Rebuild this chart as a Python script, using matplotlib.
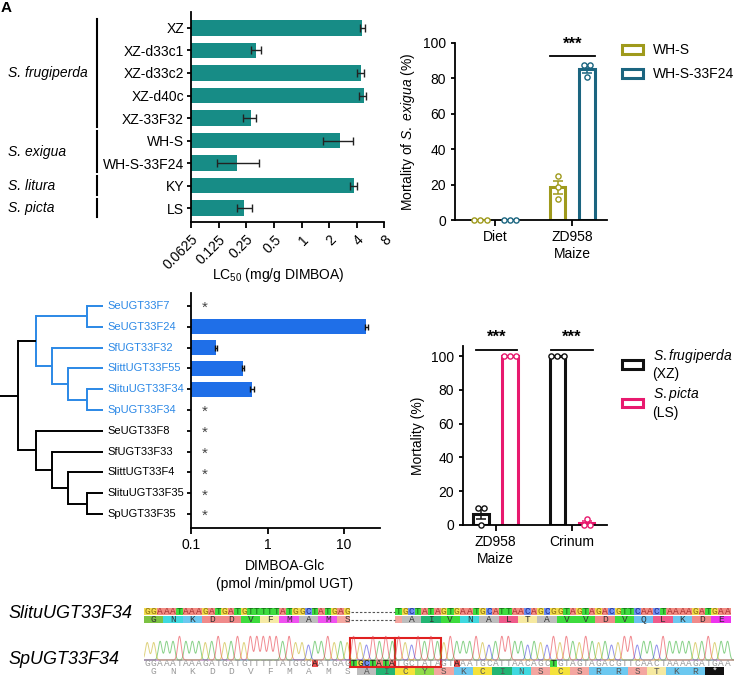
import matplotlib
matplotlib.use("Agg")
import matplotlib.pyplot as plt
from matplotlib.patches import Rectangle, Patch
from matplotlib.transforms import blended_transform_factory
import numpy as np

plt.rcParams["font.family"] = ["Liberation Sans", "DejaVu Sans"]
plt.rcParams["mathtext.fontset"] = "custom"
plt.rcParams["mathtext.rm"] = "Liberation Sans"
plt.rcParams["mathtext.it"] = "Liberation Sans:italic"
plt.rcParams["font.size"] = 10
plt.rcParams["axes.linewidth"] = 1.3
plt.rcParams["xtick.major.width"] = 1.3
plt.rcParams["ytick.major.width"] = 1.3
plt.rcParams["xtick.major.size"] = 4
plt.rcParams["ytick.major.size"] = 3

# ---------------- data ----------------
# panel A: LC50 of strains
strains = ["XZ", "XZ-d33c1", "XZ-d33c2", "XZ-d40c", "XZ-33F32",
           "WH-S", "WH-S-33F24", "KY", "LS"]
lc50 = [4.6, 0.316, 4.42, 4.77, 0.279, 2.62, 0.198, 3.74, 0.238]
lc50_lo = [4.31, 0.279, 4.07, 4.24, 0.232, 1.72, 0.121, 3.36, 0.199]
lc50_hi = [4.89, 0.358, 4.77, 5.10, 0.319, 3.65, 0.343, 4.03, 0.288]
lc50_ticks = [0.0625, 0.125, 0.25, 0.5, 1, 2, 4, 8]
lc50_ticklabels = ["0.0625", "0.125", "0.25", "0.5", "1", "2", "4", "8"]
species = ["S. frugiperda", "S. exigua", "S. litura", "S. picta"]
species_first = [0, 5, 7, 8]
species_last = [4, 6, 7, 8]

# panel B: mortality of S. exigua
b_groups = ["Diet", "ZD958\nMaize"]
b_series = ["WH-S", "WH-S-33F24"]
b_points = {
    "WH-S": [[0, 0, 0], [25, 18.5, 12]],
    "WH-S-33F24": [[0, 0, 0], [87.5, 87.5, 81]],
}
b_colors = {"WH-S": "#9f9a1c", "WH-S-33F24": "#1b6580"}

# panel C: enzyme activity with gene tree
genes = ["SeUGT33F7", "SeUGT33F24", "SfUGT33F32", "SlittUGT33F55",
         "SlituUGT33F34", "SpUGT33F34", "SeUGT33F8", "SfUGT33F33",
         "SlittUGT33F4", "SlituUGT33F35", "SpUGT33F35"]
activity = [0, 19.5, 0.215, 0.48, 0.63, 0, 0, 0, 0, 0, 0]
activity_err = [0, 0.8, 0.006, 0.02, 0.035, 0, 0, 0, 0, 0, 0]
active_clade = [0, 1, 2, 3, 4, 5]
# (node depth, children); integers are leaves
tree = (18, [(36, [(87, [0, 1]), (52, [2, (68, [3, (87, [4, 5])])])]),
             (36, [6, (52, [7, (68, [8, (87, [9, 10])])])])])
leaf_depth = 103

# panel D: mortality on two plants
d_groups = ["ZD958\nMaize", "Crinum"]
d_series = ["S.frugiperda\n(XZ)", "S.picta\n(LS)"]
d_points = {
    "S.frugiperda\n(XZ)": [[10, 10, 0], [100, 100, 100]],
    "S.picta\n(LS)": [[100, 100, 100], [3.3, 0, 0]],
}
d_colors = {"S.frugiperda\n(XZ)": "#111111", "S.picta\n(LS)": "#e8196e"}

# panel E: sequences
seq_top = "GGAAATAAAGATGATGTTTTTATGGCTATGAG-------TGCTATAGTGAATGCATTAACAGCGGTAGTAGACGTTCAACTAAAAGATGAA"
aa_top = "GNKDDVFMAMSAIVNALTAVVDVQLKDE"
seq_bot = "GGAAATAAAGATGATGTTTTTATGGCAATGAGTGCTATATGCTATAGTAAATGCATTAACAGCTGTAGTAGACGTTCAACTAAAAGATGAA"
aa_bot = "GNKDDVFMAMSAICYSKCINSCSRRSTKR*"
bot_changed = [26, 32, 33, 34, 35, 36, 37, 38, 48, 63]
insert_start, insert_len = 32, 7

nuc_bg = {"A": "#f28b82", "T": "#3fdc3f", "G": "#f2dc4c", "C": "#6f8ff0"}
nuc_fg = {"A": "#a83232", "T": "#156a15", "G": "#8a6c10", "C": "#1d2d8c"}
trace_col = {"A": "#3cb43c", "T": "#e8404a", "C": "#4a4ae0", "G": "#c9b52a"}
peak_h = {"A": 0.75, "T": 0.95, "G": 0.7, "C": 0.6}
aa_bg = {"G": "#7cc242", "N": "#3fd9e0", "K": "#6cc8f0", "D": "#f08a8a",
         "V": "#3ddc3d", "F": "#f6eaa5", "M": "#f050f0", "A": "#bdbdbd",
         "S": "#f4a6a0", "I": "#22b573", "L": "#ef5a8a", "T": "#f6e9a0",
         "Q": "#6cc0f0", "E": "#ee33ee", "C": "#f5e23a", "Y": "#8fdc4a",
         "R": "#6cc8f0", "*": "#111111"}

W, H = 734, 675
fig = plt.figure(figsize=(W / 100, H / 100), dpi=100)


def px_axes(left, top, right, bottom):
    return fig.add_axes([left / W, 1 - bottom / H, (right - left) / W, (bottom - top) / H])


def spread(values, step=0.1):
    # put equal values side by side, like a column scatter
    offs = []
    for i, v in enumerate(values):
        same = [j for j, w in enumerate(values) if w == v]
        k = same.index(i)
        n = len(same)
        offs.append((k - (n - 1) / 2) * step)
    return offs


def mortality_panel(ax, groups, series, points, colors, width=0.2, off=0.19):
    for s_i, name in enumerate(series):
        c = colors[name]
        sign = -1 if s_i == 0 else 1
        for g_i, pts in enumerate(points[name]):
            x = g_i + sign * off
            m = np.mean(pts)
            sem = np.std(pts, ddof=1) / np.sqrt(len(pts))
            ax.bar(x, m, width=width, facecolor="white", edgecolor=c,
                   linewidth=2.2, zorder=2)
            ax.errorbar(x, m, yerr=sem, color=c, capsize=3.5, elinewidth=1.1,
                        capthick=1.1, zorder=3)
            if sem == 0:
                ax.plot([x - 0.06, x + 0.06], [m, m], color=c, lw=1.1, zorder=3)
            ox = spread(pts, 0.08)
            ax.scatter([x + o for o in ox], pts, s=14, facecolor="white",
                       edgecolor=c, linewidth=1.0, zorder=4, clip_on=False)
    ax.set_xticks(range(len(groups)))
    ax.set_xticklabels(groups)
    ax.set_yticks([0, 20, 40, 60, 80, 100])
    for sp in ["top", "right"]:
        ax.spines[sp].set_visible(False)


def stars(ax, xc, y_line, y_text, half=0.28):
    ax.plot([xc - half, xc + half], [y_line, y_line], color="black", lw=1.3,
            clip_on=False)
    ax.text(xc, y_text, "***", ha="center", va="center", fontsize=12,
            fontweight="bold", clip_on=False)


# ---------------- panel A ----------------
ax_a = px_axes(191, 12, 384.4, 222)
rows = np.arange(len(strains))
xmin = lc50_ticks[0]
ax_a.barh(rows, [v - xmin for v in lc50], left=xmin, height=0.68,
          color="#178c86", zorder=2)
ax_a.errorbar(lc50, rows,
              xerr=[[v - lo for v, lo in zip(lc50, lc50_lo)],
                    [hi - v for v, hi in zip(lc50, lc50_hi)]],
              fmt="none", ecolor="#222222", elinewidth=1.0, capsize=3, zorder=3)
ax_a.set_xscale("log", base=2)
ax_a.set_xlim(lc50_ticks[0], lc50_ticks[-1])
ax_a.set_ylim(8.62, -0.71)
ax_a.set_xticks(lc50_ticks)
ax_a.set_xticklabels(lc50_ticklabels, rotation=45, ha="right",
                     rotation_mode="anchor")
ax_a.xaxis.set_minor_locator(matplotlib.ticker.NullLocator())
ax_a.set_yticks(rows)
ax_a.set_yticklabels(strains)
ax_a.tick_params(axis="y", pad=2)
for sp in ["top", "right"]:
    ax_a.spines[sp].set_visible(False)
fig.text(278 / W, 1 - 275 / H, "LC$_{50}$ (mg/g DIMBOA)", ha="center",
         va="center", fontsize=10)
tr = blended_transform_factory(fig.transFigure, ax_a.transData)
for name, f, l in zip(species, species_first, species_last):
    ax_a.plot([97 / W, 97 / W], [f - 0.42, l + 0.4], color="black", lw=1.5,
              transform=tr, clip_on=False)
    ax_a.text(8 / W, (f + l) / 2, name, transform=tr, ha="left", va="center",
              fontstyle="italic", fontsize=10)

# ---------------- panel B ----------------
ax_b = px_axes(455, 43, 607, 220)
mortality_panel(ax_b, b_groups, b_series, b_points, b_colors)
ax_b.set_xlim(-0.52, 1.45)
ax_b.set_ylim(0, 100)
ax_b.set_ylabel("Mortality of $\\mathit{S.\\ exigua}$ (%)", labelpad=4)
stars(ax_b, 1, 92.5, 99.5, half=0.29)
ax_b.legend(handles=[Patch(facecolor="white", edgecolor=b_colors[s], linewidth=2.2,
                           label=s) for s in b_series],
            loc="upper left", bbox_to_anchor=(622 / W, 1 - 43 / H),
            bbox_transform=fig.transFigure, frameon=False, borderaxespad=0,
            borderpad=0, handlelength=1.5, handleheight=0.6, handletextpad=0.7,
            labelspacing=0.75, fontsize=10)

# ---------------- panel C ----------------
ax_c = px_axes(191, 293, 380, 528)
g_rows = np.arange(len(genes))
ylim_c = (10.67, -0.625)
act_vals = [v if v > 0 else np.nan for v in activity]
ax_c.barh(g_rows, [v - 0.1 if v == v else 0 for v in act_vals], left=0.1,
          height=0.72, color="#1f6fe8", zorder=2)
ax_c.errorbar(act_vals, g_rows, xerr=activity_err, fmt="none", ecolor="#111111",
              elinewidth=1.0, capsize=2, zorder=3)
for r, v in zip(g_rows, activity):
    if v == 0:
        ax_c.text(0.152, r + 0.1, "*", ha="center", va="center", fontsize=11,
                  color="#444444")
ax_c.set_xscale("log")
ax_c.set_xlim(0.1, 29.5)
ax_c.set_ylim(*ylim_c)
ax_c.set_xticks([0.1, 1, 10])
ax_c.set_xticklabels(["0.1", "1", "10"])
ax_c.xaxis.set_minor_locator(matplotlib.ticker.NullLocator())
ax_c.set_yticks(g_rows)
ax_c.set_yticklabels([])
for sp in ["top", "right"]:
    ax_c.spines[sp].set_visible(False)
fig.text(285 / W, 1 - 575 / H, "DIMBOA-Glc\n(pmol /min/pmol UGT)", ha="center",
         va="center", fontsize=10, linespacing=1.3)

ax_t = px_axes(0, 293, 191, 528)
ax_t.set_xlim(0, 191)
ax_t.set_ylim(*ylim_c)
ax_t.axis("off")
blue = "#2b88e6"


def leaves(node):
    if isinstance(node, int):
        return [node]
    out = []
    for ch in node[1]:
        out += leaves(ch)
    return out


def draw(node, parent_x, edge_color):
    if isinstance(node, int):
        ax_t.plot([parent_x, leaf_depth], [node, node], color=edge_color, lw=1.4,
                  solid_capstyle="butt")
        return node
    x, children = node
    col = blue if all(l in active_clade for l in leaves(node)) else "black"
    ys = [draw(ch, x, col) for ch in children]
    y = (ys[0] + ys[-1]) / 2
    ax_t.plot([x, x], [ys[0], ys[-1]], color=col, lw=1.4, solid_capstyle="projecting")
    ax_t.plot([parent_x, x], [y, y], color=edge_color, lw=1.4, solid_capstyle="butt")
    return y


draw(tree, 0, "black")
for r, g in enumerate(genes):
    ax_t.text(107, r, g, ha="left", va="center", fontsize=8,
              color=blue if r in active_clade else "black")

# ---------------- panel D ----------------
ax_d = px_axes(463, 346, 607, 525)
mortality_panel(ax_d, d_groups, d_series, d_points, d_colors)
ax_d.set_xlim(-0.425, 1.457)
ax_d.set_ylim(0, 106)
ax_d.set_ylabel("Mortality (%)", labelpad=4)
stars(ax_d, 0.01, 103.5, 111, half=0.27)
stars(ax_d, 1.0, 103.5, 111, half=0.27)
ax_d.legend(handles=[Patch(facecolor="white", edgecolor=d_colors[s], linewidth=2.2,
                           label="$\\mathit{%s}$\n%s" % tuple(s.split("\n")))
                     for s in d_series],
            loc="upper left", bbox_to_anchor=(622 / W, 1 - 347 / H),
            bbox_transform=fig.transFigure, frameon=False, borderaxespad=0,
            borderpad=0, handlelength=1.5, handleheight=0.6, handletextpad=0.7,
            labelspacing=0.3, fontsize=10)

# ---------------- panel E ----------------
ax_e = px_axes(144, 598, 734, 675)
ax_e.set_xlim(0, 91.5)
ax_e.set_ylim(77, 0)
ax_e.axis("off")
mono = "Liberation Mono"


def codon_cells(seq, k):
    pos = [i for i, c in enumerate(seq) if c != "-"]
    return pos[3 * k:3 * k + 3]


# top row: reference sequence
gap = [i for i, c in enumerate(seq_top) if c == "-"]
for y in (13.5, 21.5):
    ax_e.plot([gap[0] + 0.15, gap[-1] + 0.85], [y, y], color="#555555", lw=0.8,
              linestyle=(0, (2.2, 1.6)))
for i, c in enumerate(seq_top):
    if c == "-":
        continue
    ax_e.add_patch(Rectangle((i, 10), 1, 7, facecolor=nuc_bg[c], edgecolor="none"))
    ax_e.text(i + 0.5, 13.7, c, ha="center", va="center", fontsize=6.8,
              family=mono, color=nuc_fg[c])
for k, a in enumerate(aa_top):
    cells = codon_cells(seq_top, k)
    for i in cells:
        ax_e.add_patch(Rectangle((i, 18), 1, 7, facecolor=aa_bg[a], edgecolor="none"))
    ax_e.text(cells[1] + 0.5, 21.7, a, ha="center", va="center", fontsize=6.8,
              family=mono, color="#333333")

# chromatogram of the second sequence
xs = np.linspace(0, 91.5, 3000)
for base, col in trace_col.items():
    ys = np.zeros_like(xs)
    for i, c in enumerate(seq_bot):
        if c == base:
            ys += peak_h[c] * np.exp(-0.5 * ((xs - (i + 0.5)) / 0.27) ** 2)
    ax_e.plot(xs, 62 - 25 * ys, color=col, lw=0.7, alpha=0.6)

for i, c in enumerate(seq_bot):
    if i in bot_changed:
        in_insert = insert_start <= i < insert_start + insert_len
        bg = "#ee5050" if (c == "A" and not in_insert) else nuc_bg[c]
        ax_e.add_patch(Rectangle((i, 62), 1, 6.5, facecolor=bg, edgecolor="none"))
        ax_e.text(i + 0.5, 65.4, c, ha="center", va="center", fontsize=6.8,
                  family=mono, color="#222222")
    else:
        ax_e.text(i + 0.5, 65.4, c, ha="center", va="center", fontsize=6.8,
                  family=mono, color="#9a9a9a")
for k, a in enumerate(aa_bot):
    cells = codon_cells(seq_bot, k)
    if k >= 11:
        ax_e.add_patch(Rectangle((cells[0], 69), 3, 8, facecolor=aa_bg[a],
                                 edgecolor="none"))
        fg = "white" if a == "*" else "#555555"
    else:
        fg = "#9a9a9a"
    ax_e.text(cells[1] + 0.5, 73.4, a, ha="center", va="center", fontsize=6.8,
              family=mono, color=fg)

for j in range(2):
    ax_e.add_patch(Rectangle((insert_start + j * insert_len, 40), insert_len, 29,
                             facecolor="none", edgecolor="#e02020", lw=1.5))

fig.text(8 / W, 1 - 614 / H, "SlituUGT33F34", fontsize=13, fontstyle="italic",
         ha="left", va="center")
fig.text(8 / W, 1 - 659 / H, "SpUGT33F34", fontsize=13, fontstyle="italic",
         ha="left", va="center")
fig.text(1 / W, 1 - 1 / H, "A", fontsize=11, fontweight="bold", ha="left", va="top")

fig.savefig("out.png", dpi=100)
